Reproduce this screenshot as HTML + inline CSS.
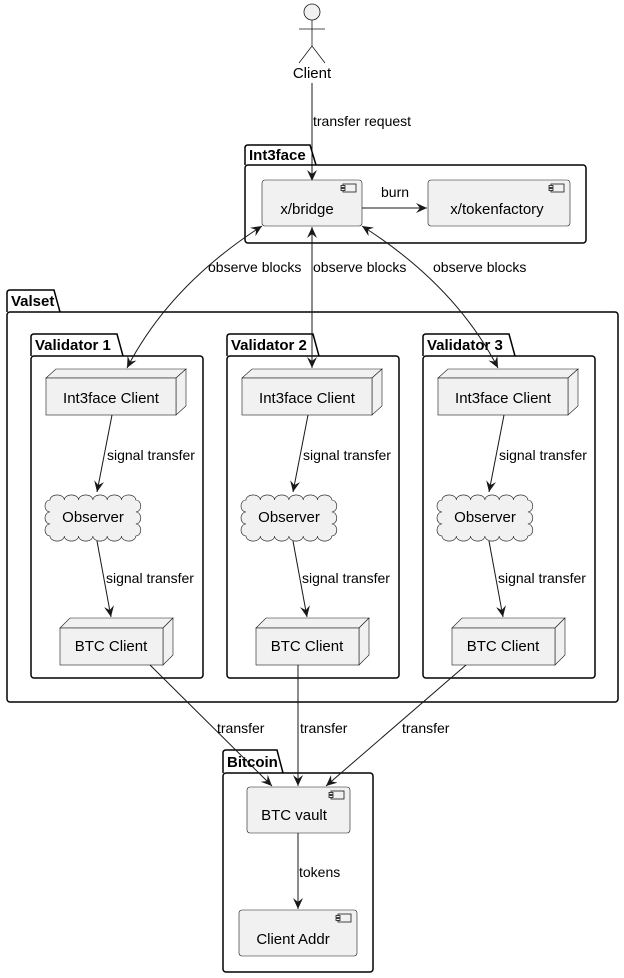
<!DOCTYPE html>
<html><head><meta charset="utf-8"><style>
html,body{margin:0;padding:0;background:#fff;}
svg{display:block;font-family:"Liberation Sans",sans-serif;}
.e{font-size:14px;fill:#000;}
.n{font-size:15px;fill:#000;}
.p{font-size:15px;font-weight:bold;fill:#000;}
</style></head><body>
<svg width="624" height="978" viewBox="0 0 624 978" xmlns="http://www.w3.org/2000/svg">
<defs>
<marker id="a" viewBox="0 0 12 12" refX="11" refY="6" markerWidth="12" markerHeight="12" orient="auto-start-reverse" markerUnits="userSpaceOnUse">
<path d="M0,1 L11,6 L0,11 L4,6 Z" fill="#181818"/>
</marker>
<g id="comp"><rect x="0" y="0" width="13" height="8" fill="#f1f1f1" stroke="#181818" stroke-width="0.8"/><rect x="-2" y="1.5" width="4" height="2" fill="#f1f1f1" stroke="#181818" stroke-width="0.8"/><rect x="-2" y="4.5" width="4" height="2" fill="#f1f1f1" stroke="#181818" stroke-width="0.8"/></g>
<g id="val">
<path d="M31,356 L31,337 Q31,334 34,334 L117,334 L123,356" fill="none" stroke="#000" stroke-width="1.5"/>
<rect x="31" y="356" width="172" height="322" rx="3" fill="none" stroke="#000" stroke-width="1.5"/>
<path d="M46,378 L56,369 L186,369 L176,378 Z" fill="#f1f1f1" stroke="#181818" stroke-width="0.6"/>
<path d="M176,378 L186,369 L186,406 L176,415 Z" fill="#f1f1f1" stroke="#181818" stroke-width="0.6"/>
<rect x="46" y="378" width="130" height="37" fill="#f1f1f1" stroke="#181818" stroke-width="0.6"/>
<text class="n" x="111" y="403" text-anchor="middle">Int3face Client</text>
<path d="M50,500 a7,5 0 0 1 14.3,0 a7,5 0 0 1 14.3,0 a7,5 0 0 1 14.3,0 a7,5 0 0 1 14.3,0 a7,5 0 0 1 14.3,0 a7,5 0 0 1 14.3,0 a5,6 0 0 1 0,12 a5,6 0 0 1 0,12 a5,6 0 0 1 0,12 a7,5 0 0 1 -14.3,0 a7,5 0 0 1 -14.3,0 a7,5 0 0 1 -14.3,0 a7,5 0 0 1 -14.3,0 a7,5 0 0 1 -14.3,0 a7,5 0 0 1 -14.3,0 a5,6 0 0 1 0,-12 a5,6 0 0 1 0,-12 a5,6 0 0 1 0,-12 Z" fill="#f1f1f1" stroke="#181818" stroke-width="0.6"/>
<text class="n" x="93" y="522" text-anchor="middle">Observer</text>
<path d="M60,628 L70,618 L173,618 L163,628 Z" fill="#f1f1f1" stroke="#181818" stroke-width="0.6"/>
<path d="M163,628 L173,618 L173,655 L163,665 Z" fill="#f1f1f1" stroke="#181818" stroke-width="0.6"/>
<rect x="60" y="628" width="103" height="37" fill="#f1f1f1" stroke="#181818" stroke-width="0.6"/>
<text class="n" x="111" y="651" text-anchor="middle">BTC Client</text>
<line x1="112" y1="415" x2="97" y2="492" stroke="#181818" marker-end="url(#a)"/>
<text class="e" x="107" y="460">signal transfer</text>
<line x1="97" y1="541" x2="111" y2="617" stroke="#181818" marker-end="url(#a)"/>
<text class="e" x="106" y="583">signal transfer</text>
</g>
</defs>

<!-- actor -->
<circle cx="312" cy="12" r="8" fill="#f1f1f1" stroke="#181818" stroke-width="0.8"/>
<line x1="312" y1="20" x2="312" y2="46" stroke="#181818" stroke-width="0.8"/>
<line x1="299" y1="29" x2="325" y2="29" stroke="#181818" stroke-width="0.8"/>
<path d="M299,63 L312,46 L325,63" fill="none" stroke="#181818" stroke-width="0.8"/>
<text class="n" x="312" y="78" text-anchor="middle">Client</text>
<line x1="312" y1="83" x2="312" y2="181" stroke="#181818" marker-end="url(#a)"/>
<text class="e" x="313" y="126">transfer request</text>

<!-- Int3face -->
<path d="M245,165 L245,148 Q245,145 248,145 L310,145 L316,165" fill="none" stroke="#000" stroke-width="1.5"/>
<rect x="245" y="165" width="341" height="78" rx="3" fill="none" stroke="#000" stroke-width="1.5"/>
<text class="p" x="249" y="160">Int3face</text>
<rect x="262" y="180" width="100" height="46" rx="3" fill="#f1f1f1" stroke="#181818" stroke-width="0.6"/>
<use href="#comp" x="343" y="184"/>
<text class="n" x="307" y="214" text-anchor="middle">x/bridge</text>
<rect x="428" y="180" width="142" height="46" rx="3" fill="#f1f1f1" stroke="#181818" stroke-width="0.6"/>
<use href="#comp" x="551" y="184"/>
<text class="n" x="497" y="214" text-anchor="middle">x/tokenfactory</text>
<line x1="362" y1="208" x2="427" y2="208" stroke="#181818" marker-end="url(#a)"/>
<text class="e" x="381" y="197">burn</text>

<!-- Valset -->
<path d="M7,312 L7,293 Q7,290 10,290 L54,290 L60,312" fill="none" stroke="#000" stroke-width="1.5"/>
<rect x="7" y="312" width="611" height="390" rx="3" fill="none" stroke="#000" stroke-width="1.5"/>
<text class="p" x="11" y="306">Valset</text>

<use href="#val"/>
<use href="#val" x="196"/>
<use href="#val" x="392"/>
<text class="p" x="35" y="350">Validator 1</text>
<text class="p" x="231" y="350">Validator 2</text>
<text class="p" x="427" y="350">Validator 3</text>

<!-- observe blocks -->
<path d="M262,226 Q170,285 127,368" fill="none" stroke="#181818" marker-start="url(#a)" marker-end="url(#a)"/>
<line x1="312" y1="227" x2="312" y2="368" stroke="#181818" marker-start="url(#a)" marker-end="url(#a)"/>
<path d="M362,226 Q455,285 498,368" fill="none" stroke="#181818" marker-start="url(#a)" marker-end="url(#a)"/>
<text class="e" x="208" y="272">observe blocks</text>
<text class="e" x="313" y="272">observe blocks</text>
<text class="e" x="433" y="272">observe blocks</text>

<!-- Bitcoin -->
<path d="M223,773 L223,753 Q223,750 226,750 L277,750 L283,773" fill="none" stroke="#000" stroke-width="1.5"/>
<rect x="223" y="773" width="150" height="199" rx="3" fill="none" stroke="#000" stroke-width="1.5"/>
<text class="p" x="227" y="767">Bitcoin</text>
<rect x="247" y="787" width="103" height="46" rx="3" fill="#f1f1f1" stroke="#181818" stroke-width="0.6"/>
<use href="#comp" x="331" y="791"/>
<text class="n" x="294" y="820" text-anchor="middle">BTC vault</text>
<rect x="239" y="910" width="118" height="46" rx="3" fill="#f1f1f1" stroke="#181818" stroke-width="0.6"/>
<use href="#comp" x="338" y="914"/>
<text class="n" x="293" y="944" text-anchor="middle">Client Addr</text>
<line x1="298" y1="833" x2="298" y2="909" stroke="#181818" marker-end="url(#a)"/>
<text class="e" x="299" y="877">tokens</text>

<!-- transfers -->
<line x1="150" y1="665" x2="272" y2="786" stroke="#181818" marker-end="url(#a)"/>
<line x1="298" y1="665" x2="298" y2="786" stroke="#181818" marker-end="url(#a)"/>
<line x1="466" y1="665" x2="326" y2="786" stroke="#181818" marker-end="url(#a)"/>
<text class="e" x="217" y="733">transfer</text>
<text class="e" x="300" y="733">transfer</text>
<text class="e" x="402" y="733">transfer</text>
</svg>
</body></html>
